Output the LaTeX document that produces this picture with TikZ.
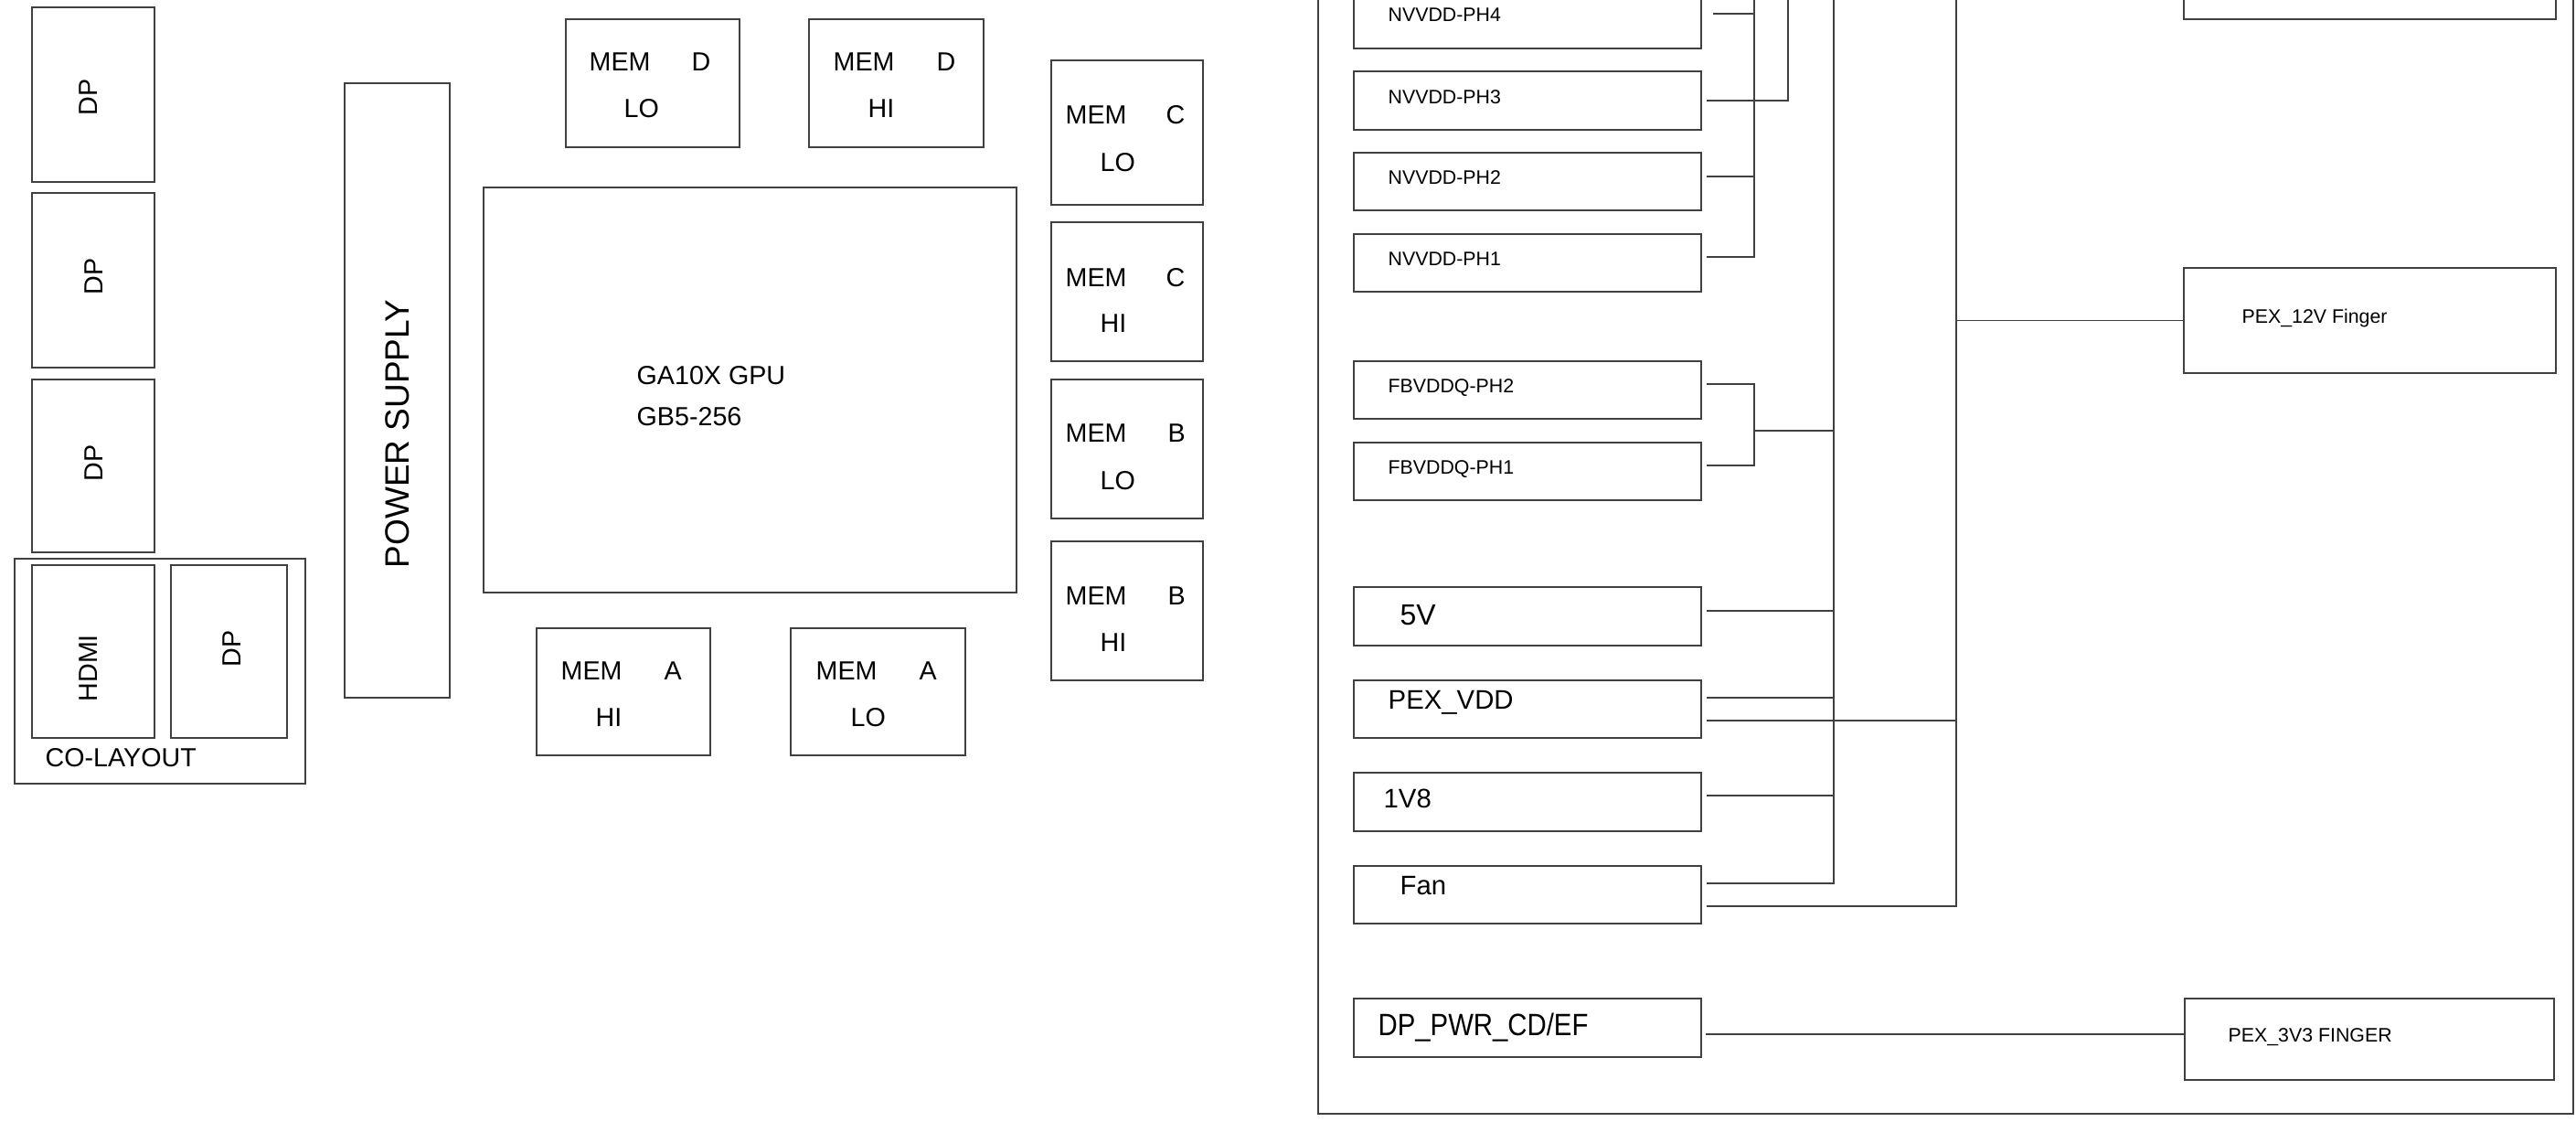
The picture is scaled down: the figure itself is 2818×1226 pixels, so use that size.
\documentclass[tikz,border=0pt]{standalone}
\usepackage{fontspec}
\setmainfont{Liberation Sans}
\usetikzlibrary{fit,calc}
\newcommand\bx[5]{\node[box, fit={(#2,#3) (#4,#5)}] (#1) {};}
\begin{document}
\begin{tikzpicture}[x=0.3pt,y=-0.3pt,
  ln/.style={line width=0.5pt, draw=black!75},
  box/.style={ln, rectangle, inner sep=0pt, outer sep=0pt},
  txt/.style={inner sep=0pt, anchor=base west, font=\fontsize{8.6pt}{10pt}\selectfont},
  sm/.style={txt, font=\fontsize{6.4pt}{7.5pt}\selectfont},
  md/.style={txt, font=\fontsize{8.8pt}{10pt}\selectfont},
  big/.style={txt, font=\fontsize{9.6pt}{11pt}\selectfont},
  rot/.style={txt, rotate=90},
]
\useasboundingbox (0,0) rectangle (2818,1226);

% ---------- left: connectors ----------
\bx{dp1}{35}{8}{169}{199}
\bx{dp2}{35}{211}{169}{402}
\bx{dp3}{35}{415}{169}{604}
\bx{colayout}{16}{611}{334}{857}
\bx{hdmi}{35}{618}{169}{807}
\bx{dp4}{187}{618}{314}{807}
\node[rot] (tdp1) at (106,127) {DP};
\node[rot] (tdp2) at (112,323) {DP};
\node[rot] (tdp3) at (112,527) {DP};
\node[rot] (thdmi) at (106,768) {HDMI};
\node[rot] (tdp4) at (263,730) {DP};
\node[txt] (tcol) at (49,838) {CO-LAYOUT};

% ---------- power supply ----------
\bx{psu}{377}{91}{492}{763}
\node[rot, font=\fontsize{11.1pt}{13pt}\selectfont] (tpsu) at (447,622) {POWER SUPPLY};

% ---------- GPU ----------
\bx{gpu}{529}{205}{1112}{648}
\node[txt] (tgpu1) at (696,420) {GA10X GPU};
\node[txt] (tgpu2) at (696,465) {GB5-256};

% ---------- memories ----------
\bx{memDlo}{619}{21}{809}{161}
\node[txt] (tDlo1) at (644,77) {MEM};
\node[txt] (tDlo2) at (756,77) {D};
\node[txt] (tDlo3) at (682,128) {LO};
\bx{memDhi}{885}{21}{1076}{161}
\node[txt] (tDhi1) at (911,77) {MEM};
\node[txt] (tDhi2) at (1024,77) {D};
\node[txt] (tDhi3) at (949,128) {HI};

\bx{memClo}{1150}{66}{1316}{224}
\node[txt] (tClo1) at (1165,135) {MEM};
\node[txt] (tClo2) at (1275,135) {C};
\node[txt] (tClo3) at (1203,187) {LO};
\bx{memChi}{1150}{243}{1316}{395}
\node[txt] (tChi1) at (1165,313) {MEM};
\node[txt] (tChi2) at (1275,313) {C};
\node[txt] (tChi3) at (1203,363) {HI};
\bx{memBlo}{1150}{415}{1316}{567}
\node[txt] (tBlo1) at (1165,483) {MEM};
\node[txt] (tBlo2) at (1277,483) {B};
\node[txt] (tBlo3) at (1203,535) {LO};
\bx{memBhi}{1150}{592}{1316}{744}
\node[txt] (tBhi1) at (1165,661) {MEM};
\node[txt] (tBhi2) at (1277,661) {B};
\node[txt] (tBhi3) at (1203,712) {HI};

\bx{memAhi}{587}{687}{777}{826}
\node[txt] (tAhi1) at (613,743) {MEM};
\node[txt] (tAhi2) at (726,743) {A};
\node[txt] (tAhi3) at (651,794) {HI};
\bx{memAlo}{865}{687}{1056}{826}
\node[txt] (tAlo1) at (892,743) {MEM};
\node[txt] (tAlo2) at (1005,743) {A};
\node[txt] (tAlo3) at (930,794) {LO};

% ---------- right: power tree ----------
\bx{outer}{1442}{-40}{2815}{1218}
\bx{ph4}{1481}{-11}{1861}{53}
\bx{ph3}{1481}{78}{1861}{142}
\bx{ph2}{1481}{167}{1861}{230}
\bx{ph1}{1481}{256}{1861}{319}
\bx{fb2}{1481}{395}{1861}{458}
\bx{fb1}{1481}{484}{1861}{547}
\bx{v5}{1481}{642}{1861}{706}
\bx{pexvdd}{1481}{744}{1861}{807}
\bx{v18}{1481}{845}{1861}{909}
\bx{fan}{1481}{947}{1861}{1010}
\bx{dppwr}{1481}{1092}{1861}{1156}
\bx{topright}{2389}{-40}{2796}{21}
\bx{pex12}{2389}{293}{2796}{408}
\bx{pex33}{2390}{1092}{2794}{1181}

\node[sm] (tph4) at (1518,24) {NVVDD-PH4};
\node[sm] (tph3) at (1518,113) {NVVDD-PH3};
\node[sm] (tph2) at (1518,201) {NVVDD-PH2};
\node[sm] (tph1) at (1518,290) {NVVDD-PH1};
\node[sm] (tfb2) at (1518,429) {FBVDDQ-PH2};
\node[sm] (tfb1) at (1518,518) {FBVDDQ-PH1};
\node[big] (tv5) at (1531,683) {5V};
\node[md] (tpexvdd) at (1518,775) {PEX\_VDD};
\node[md] (tv18) at (1513,883) {1V8};
\node[md] (tfan) at (1531,978) {Fan};
\node[md, yscale=1.15] (tdppwr) at (1507,1132) {DP\_PWR\_CD/EF};
\node[sm] (tpex12) at (2452,353) {PEX\_12V Finger};
\node[sm] (tpex33) at (2437,1139) {PEX\_3V3 FINGER};

\coordinate (top1919) at (1919,-40);
\coordinate (top1956) at (1956,-40);
\coordinate (top2006) at (2006,-40);
\coordinate (top2140) at (2140,-40);

% NVVDD phases
\draw[ln] ($(ph4.north east)+(13,26)$) -- +(45,0);
\draw[ln] ($(ph3.north east)+(6,32)$) -| (top1956);
\draw[ln] ($(ph2.north east)+(6,26)$) -- +(52,0);
\draw[ln] (top1919) |- ($(ph1.north east)+(6,25)$);
% FBVDDQ phases
\draw[ln] ($(fb2.north east)+(6,25)$) -| ($(fb1.north east)+(58,25)$) -- ($(fb1.north east)+(6,25)$);
\draw[ln] ($(fb2.north east)+(58,76)$) -- +(87,0);
% main bus
\draw[ln] (top2006) |- ($(fan.north east)+(6,19)$);
\draw[ln] ($(v5.north east)+(6,26)$) -- +(139,0);
\draw[ln] ($(pexvdd.north east)+(6,19)$) -- +(139,0);
\draw[ln] ($(v18.north east)+(6,25)$) -- +(139,0);
% 12V bus
\draw[ln] (top2140) |- ($(fan.north east)+(6,44)$);
\draw[ln] ($(pexvdd.north east)+(6,44)$) -- +(273,0);
\draw[ln] (top2140 |- pex12.west) -- (pex12.west);
% 3V3
\draw[ln] ($(dppwr.north east)+(5,39)$) -- ($(pex33.north west)+(0,39)$);
\end{tikzpicture}
\end{document}
